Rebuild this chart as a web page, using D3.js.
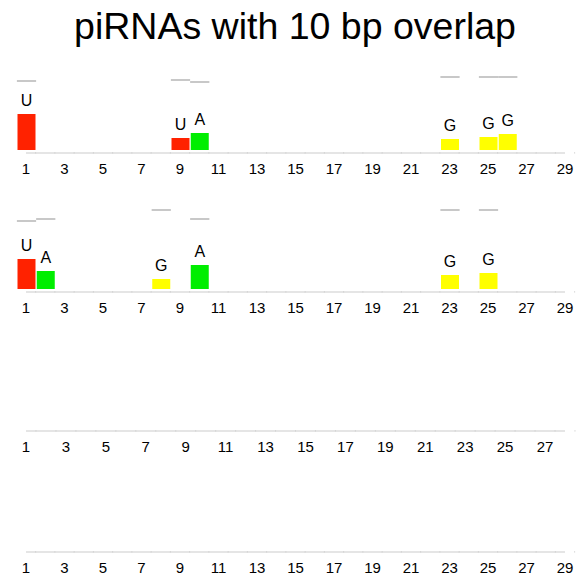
<!DOCTYPE html>
<html><head><meta charset="utf-8">
<script src="https://cdn.jsdelivr.net/npm/d3@7"></script>
<style>body{margin:0;background:#fff}</style>
</head><body>
<script>
const title = "piRNAs with 10 bp overlap";
const baseColors = {U:"#ff2200", A:"#00ee00", G:"#ffff00", C:"#0000ff"};

// panel 1
const p1Pos = [1, 9, 10, 23, 25, 26];
const p1Base = ["U", "U", "A", "G", "G", "G"];
const p1Value = [36, 12, 17, 11, 13, 16];
const p1Max = [69, 70, 68, 73, 73, 73];
// panel 2
const p2Pos = [1, 2, 8, 10, 23, 25];
const p2Base = ["U", "A", "G", "A", "G", "G"];
const p2Value = [30, 18, 10, 24, 14, 16];
const p2Max = [68, 70, 79, 70, 79, 79];

const ticks29 = d3.range(1, 30, 2);
const ticks27 = d3.range(1, 28, 2);

const W = 585, H = 575;
const svg = d3.select("body").append("svg").attr("width", W).attr("height", H);

svg.append("text").attr("x", 295).attr("y", 39).attr("text-anchor", "middle")
  .attr("font-family", "Liberation Sans, Arial, sans-serif").attr("font-size", 37.5)
  .attr("fill", "#000").text(title);

function panel(axisY, nPos, ticks, pos, base, val, mx) {
  const x = d3.scaleLinear().domain([1, nPos]).range([26, 565]);
  const step = x(2) - x(1);
  const baseY = axisY - 3;
  const y = d3.scaleLinear().domain([0, 100]).range([baseY, baseY - 100]);
  const g = svg.append("g");
  g.append("line").attr("x1", x(1)).attr("x2", 565).attr("y1", axisY).attr("y2", axisY)
    .attr("stroke", "#dcdcdc").attr("stroke-width", 1.5);
  g.selectAll(".tk").data(d3.range(1, nPos + 1)).join("line")
    .attr("x1", d => x(d) + step / 2).attr("x2", d => x(d) + step / 2)
    .attr("y1", axisY - 0.75).attr("y2", axisY + 0.5).attr("stroke", "#cfcfcf").attr("stroke-width", 1);
  g.selectAll(".tl").data(ticks).join("text")
    .attr("x", d => x(d)).attr("y", axisY + 21).attr("text-anchor", "middle")
    .attr("font-family", "Liberation Sans, Arial, sans-serif").attr("font-size", 15)
    .text(d => d);
  if (!pos) return;
  const data = pos.map((p, i) => ({p, b: base[i], v: val[i], m: mx[i]}));
  g.selectAll(".mx").data(data).join("line")
    .attr("x1", d => x(d.p) - step / 2 + 0.5).attr("x2", d => x(d.p) + step / 2 + 0.5)
    .attr("y1", d => y(d.m)).attr("y2", d => y(d.m))
    .attr("stroke", "#c8c8c8").attr("stroke-width", 2);
  g.selectAll(".bar").data(data).join("rect")
    .attr("x", d => x(d.p) - 8.5).attr("width", 18)
    .attr("y", d => y(d.v)).attr("height", d => baseY - y(d.v))
    .attr("fill", d => baseColors[d.b]);
  g.selectAll(".lb").data(data).join("text")
    .attr("x", d => x(d.p) + 0.5).attr("y", d => y(d.v) - 8).attr("text-anchor", "middle")
    .attr("font-family", "Liberation Sans, Arial, sans-serif").attr("font-size", 16)
    .text(d => d.b);
}

panel(153, 29, ticks29, p1Pos, p1Base, p1Value, p1Max);
panel(292, 29, ticks29, p2Pos, p2Base, p2Value, p2Max);
panel(431, 28, ticks27);
panel(552, 29, ticks29);
</script>
</body></html>
